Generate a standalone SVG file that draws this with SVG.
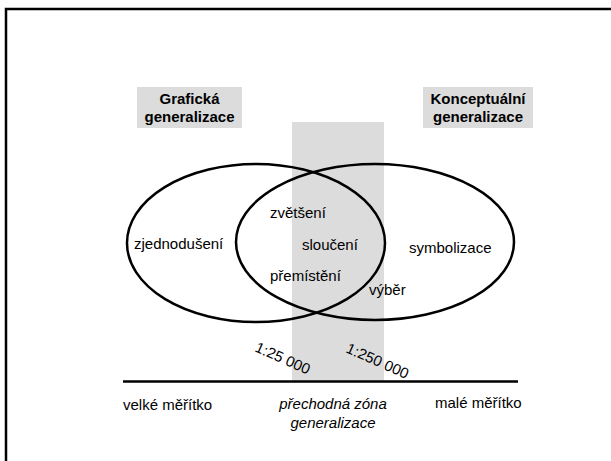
<svg xmlns="http://www.w3.org/2000/svg" width="611" height="461" viewBox="0 0 611 461">
  <style>
    text { font-family: "Liberation Sans", Arial, sans-serif; font-size: 15px; fill: #000; }
    .bold { font-weight: bold; font-size: 15px; }
    .it { font-style: italic; }
    .shade { fill: #dcdcdc; }
    .ring { fill: none; stroke: #000; stroke-width: 2.5; }
  </style>
  <rect width="611" height="461" fill="#fff"/>
  <!-- page frame (top and left edges visible) -->
  <rect x="6" y="9" width="640" height="480" fill="none" stroke="#000" stroke-width="2.5"/>

  <!-- transition zone band -->
  <rect id="zone" class="shade" x="292" y="122" width="92" height="259"/>

  <g id="graficka">
    <rect class="shade" x="137" y="87" width="105" height="41"/>
    <text class="bold" x="189.5" y="104" text-anchor="middle">Grafická</text>
    <text class="bold" x="189.5" y="122" text-anchor="middle">generalizace</text>
  </g>
  <g id="konceptualni">
    <rect class="shade" x="423" y="87" width="110" height="41"/>
    <text class="bold" x="478" y="104" text-anchor="middle">Konceptuální</text>
    <text class="bold" x="478" y="122" text-anchor="middle">generalizace</text>
  </g>

  <g id="ellipses">
    <ellipse id="left-set" class="ring" cx="256" cy="243" rx="129" ry="79"/>
    <ellipse id="right-set" class="ring" cx="375" cy="242" rx="139" ry="78"/>
  </g>

  <g id="labels">
    <text x="134" y="249">zjednodušení</text>
    <text x="270" y="218">zvětšení</text>
    <text x="302" y="250">sloučení</text>
    <text x="270" y="281">přemístění</text>
    <text x="369" y="295">výběr</text>
    <text x="409" y="253">symbolizace</text>
  </g>

  <g id="scales">
    <text transform="translate(254,351) rotate(24)">1:25 000</text>
    <text transform="translate(345,352) rotate(24)">1:250 000</text>
  </g>

  <line id="axis" x1="123" y1="381.5" x2="518" y2="381.5" stroke="#000" stroke-width="2.5"/>

  <g id="axis-labels">
    <text x="123" y="410">velké měřítko</text>
    <text x="435" y="408">malé měřítko</text>
    <text class="it" x="333" y="409" text-anchor="middle">přechodná zóna</text>
    <text class="it" x="333" y="428" text-anchor="middle">generalizace</text>
  </g>
</svg>
